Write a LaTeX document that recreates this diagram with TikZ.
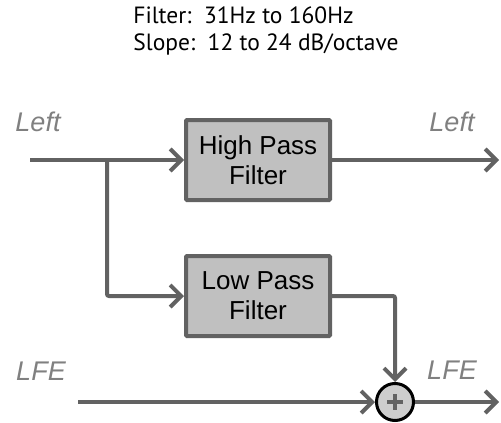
\documentclass[tikz,border=0pt]{standalone}
\usepackage{fontspec}
\setmainfont{Liberation Sans}
\newfontfamily\titlefont{PT Sans}
\usepackage{tikz}
\usetikzlibrary{arrows.meta,positioning,calc}
\usepackage{xcolor}
\definecolor{wireGray}{RGB}{98,98,98}
\definecolor{boxGray}{RGB}{192,192,192}
\definecolor{labelGray}{RGB}{128,128,128}
\definecolor{sumGray}{RGB}{205,205,205}

\tikzset{
  filterbox/.style={draw=wireGray, line width=4pt, fill=boxGray,
    minimum width=144pt, minimum height=80pt, rounded corners=1pt,
    align=center, font=\fontsize{26}{30}\selectfont},
  wire/.style={draw=wireGray, line width=4pt,
    -{Straight Barb[length=11pt,width=22pt]}},
  plainwire/.style={draw=wireGray, line width=4pt},
  chanlabel/.style={labelGray, font=\fontsize{27}{30}\selectfont\itshape}
}

\begin{document}
\begin{tikzpicture}[x=1pt,y=-1pt]
  \useasboundingbox (0,0) rectangle (501,423);
  % Header
  \node[font=\titlefont\fontsize{23.5}{27}\selectfont, align=left] (hdr)
    at (266,31) {Filter:\ \ 31Hz to 160Hz\\Slope:\ \ 12 to 24 dB/octave};
  % Filters
  \node[filterbox] (hpf) at (258,160) {High Pass\\Filter};
  \node[filterbox] (lpf) at (258,296) {Low Pass\\Filter};
  % Summing point
  \node[circle, draw=black, line width=3pt, fill=sumGray,
        minimum size=37pt, inner sep=0pt] (sum) at (395,402) {};
  \draw[wireGray, line width=4pt] ($(sum)+(-8,0)$) -- ($(sum)+(8,0)$)
        ($(sum)+(0,-8)$) -- ($(sum)+(0,8)$);
  % Ends of the wires
  \coordinate (inL) at (30,160);
  \coordinate (split) at (107,160);
  \coordinate (outL) at (499,160);
  \coordinate (bend) at (395,296);
  \coordinate (inLFE) at (78,402);
  \coordinate (outLFE) at (499,402);
  % Wires
  \draw[plainwire] (inL) -- (split);
  \draw[wire] (split) -- (hpf.west);
  \draw[wire, rounded corners=2pt] (split) |- (lpf.west);
  \draw[wire] (hpf.east) -- (outL);
  \draw[wire, rounded corners=2pt] (lpf.east) -- (bend) -- (sum.north);
  \draw[wire] (inLFE) -- (sum.west);
  \draw[wire] (sum.east) -- (outLFE);
  % Channel labels
  \node[chanlabel] (lblInL) at (38,122) {Left};
  \node[chanlabel] (lblOutL) at (452,122) {Left};
  \node[chanlabel] (lblInLFE) at (41,371) {LFE};
  \node[chanlabel] (lblOutLFE) at (452,370) {LFE};
\end{tikzpicture}
\end{document}
